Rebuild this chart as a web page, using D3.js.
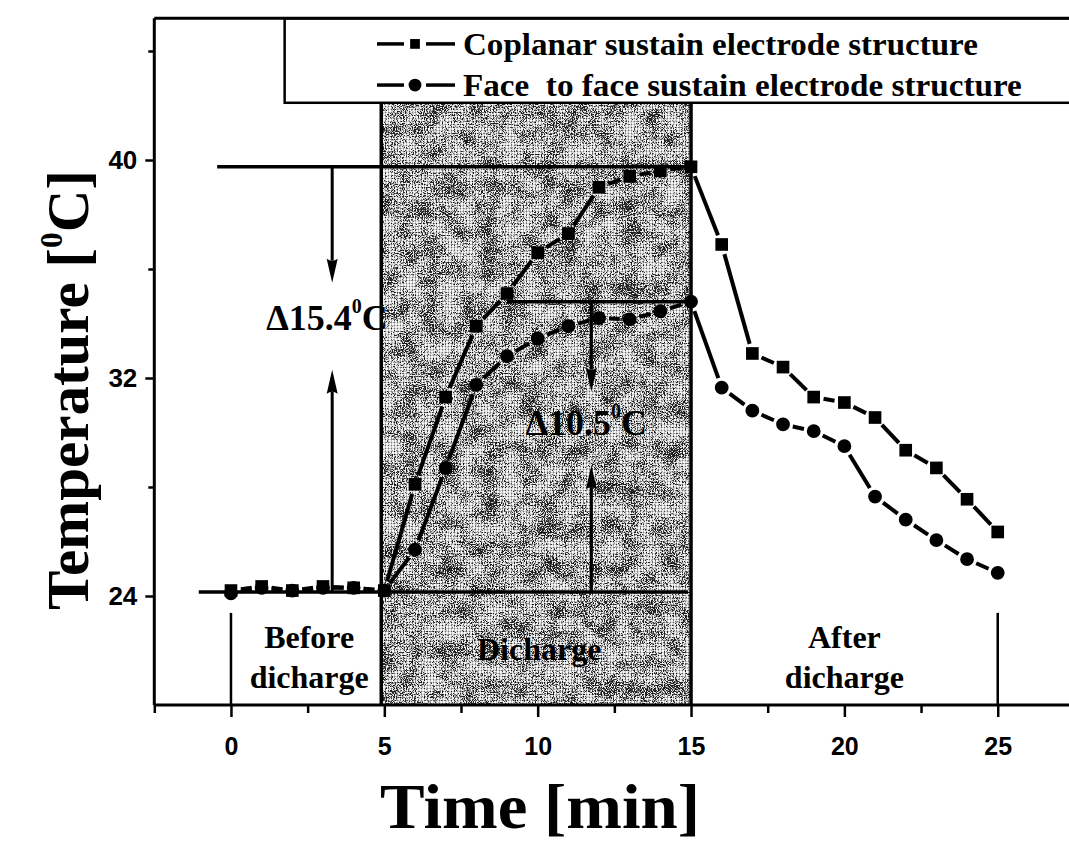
<!DOCTYPE html>
<html><head><meta charset="utf-8">
<script src="https://cdn.jsdelivr.net/npm/d3@7/dist/d3.min.js"></script>
<style>html,body{margin:0;padding:0;background:#fff;} svg{display:block;}</style>
</head><body>
<svg id="chart" width="1069" height="841"></svg>
<script>
// ---------------- data ----------------
const minutes = [0,1,2,3,4,5,6,7,8,9,10,11,12,13,14,15,16,17,18,19,20,21,22,23,24,25];
const coplanar = [24.2,24.35,24.2,24.35,24.3,24.2,28.1,31.3,33.9,35.1,36.6,37.3,39.0,39.4,39.6,39.75,36.9,32.9,32.4,31.3,31.1,30.55,29.35,28.7,27.55,26.35];
const faceToFace = [24.1,24.3,24.2,24.3,24.3,24.2,25.7,28.7,31.75,32.8,33.45,33.9,34.2,34.15,34.45,34.8,31.65,30.8,30.3,30.05,29.5,27.65,26.8,26.05,25.35,24.85];
const seriesNames = ["Coplanar sustain electrode structure", "Face  to face sustain electrode structure"];
const xMajorTicks = [0,5,10,15,20,25];
const xMinorTicks = [-2.5,2.5,7.5,12.5,17.5,22.5];
const yMajorTicks = [24,32,40];
const yMinorTicks = [28,36,44];
const xTitle = "Time [min]";
const yTitleMain = "Temperature [", yTitleSup = "0", yTitleEnd = "C]";
const phaseLabels = [["Before","dicharge"],["Dicharge"],["After","dicharge"]];
const phaseCenters = [2.55, 10.05, 20.0];
const dischargeStart = 4.9, dischargeEnd = 15;
const refLevels = [39.75, 34.8, 24.15];          // horizontal reference levels
const refStarts = [-0.45, 9.0, -1.05];
const refEnds = [15, 15, 14.9];
const deltaLabels = ["\u039415.4", "\u039410.5"];
const deltaArrowX = [3.3, 11.75];
const deltaTextX = [1.15, 9.6];
const deltaTextY = [33.76, 29.91];
const arrowTips = [[35.5, 32.3], [31.5, 28.8]]; // [down tip, up tip]
const arrowFrom = [[39.75, 24.15], [34.8, 24.15]];

// ---------------- scales ----------------
const svg = d3.select('#chart');
const x = d3.scaleLinear().domain([-2.5, 27.5]).range([154.3, 1074.4]);
const y = d3.scaleLinear().domain([20, 45.2]).range([705, 18.3]);
const legendBottom = 42.1, legendLeft = 1.75;

const serif = "'Liberation Serif','Times New Roman',serif";
const sans = "'Liberation Sans',Arial,sans-serif";

// ---------------- defs: speckle texture ----------------
const defs = svg.append('defs');
const f = defs.append('filter').attr('id','speckle').attr('x',0).attr('y',0).attr('width','100%').attr('height','100%')
  .attr('color-interpolation-filters','sRGB');
f.append('feTurbulence').attr('type','fractalNoise').attr('baseFrequency',0.9).attr('numOctaves',2).attr('seed',5).attr('result','fine');
f.append('feColorMatrix').attr('in','fine').attr('type','matrix').attr('values','0 0 0 0 0  0 0 0 0 0  0 0 0 0 0  1 0 0 0 0').attr('result','fineA');
f.append('feTurbulence').attr('type','fractalNoise').attr('baseFrequency',0.05).attr('numOctaves',2).attr('seed',11).attr('result','coarse');
f.append('feColorMatrix').attr('in','coarse').attr('type','matrix').attr('values','0 0 0 0 0  0 0 0 0 0  0 0 0 0 0  1 0 0 0 0').attr('result','coarseA');
f.append('feComposite').attr('in','coarseA').attr('in2','fineA').attr('operator','arithmetic')
  .attr('k1',0).attr('k2',0.45).attr('k3',-1).attr('k4',0.74).attr('result','mix');
f.append('feColorMatrix').attr('in','mix').attr('type','matrix').attr('values','0 0 0 0 0  0 0 0 0 0  0 0 0 0 0  0 0 0 9 -4.3');

// halftone grid pattern
const pat = defs.append('pattern').attr('id','halftone').attr('patternUnits','userSpaceOnUse').attr('width',3).attr('height',3);
pat.append('rect').attr('width',3).attr('height',3).attr('fill','#fff');
pat.append('circle').attr('cx',1.5).attr('cy',1.5).attr('r',0.9).attr('fill','#777');

// ---------------- discharge shading ----------------
const sx0 = x(dischargeStart), sx1 = x(dischargeEnd), sy0 = y(legendBottom), sy1 = y(20);
svg.append('rect').attr('x',sx0).attr('y',sy0).attr('width',sx1-sx0).attr('height',sy1-sy0).attr('fill','url(#halftone)');
svg.append('rect').attr('x',sx0).attr('y',sy0).attr('width',sx1-sx0).attr('height',sy1-sy0).attr('fill','#000').attr('filter','url(#speckle)').attr('opacity',0.85);
[dischargeStart, dischargeEnd].forEach(t=>{
  svg.append('line').attr('x1',x(t)).attr('x2',x(t)).attr('y1',sy0).attr('y2',sy1).attr('stroke','#000').attr('stroke-width',3.5);
});

// ---------------- legend box ----------------
svg.append('rect').attr('x',x(legendLeft)).attr('y',y(45.2)).attr('width',x(27.5)-x(legendLeft)+10).attr('height',y(legendBottom)-y(45.2))
  .attr('fill','#fff').attr('stroke','#000').attr('stroke-width',2.5);

// ---------------- frame ----------------
const frame = svg.append('g').attr('stroke','#000').attr('stroke-width',3).attr('fill','none');
frame.append('line').attr('x1',x(-2.5)).attr('x2',x(-2.5)).attr('y1',y(45.2)).attr('y2',y(20));
frame.append('line').attr('x1',x(-2.5)).attr('x2',x(27.5)).attr('y1',y(20)).attr('y2',y(20));
frame.append('line').attr('x1',x(-2.5)).attr('x2',x(27.5)).attr('y1',y(45.2)).attr('y2',y(45.2));

// ---------------- axes ----------------
function styleAxis(g){
  g.select('.domain').remove();
  g.selectAll('line').attr('stroke','#000').attr('stroke-width',2.5);
  g.selectAll('text').attr('fill','#000').attr('font-family',sans).attr('font-weight','bold').attr('font-size',25);
}
svg.append('g').attr('transform',`translate(0,${y(20)})`)
  .call(d3.axisBottom(x).tickValues(xMajorTicks).tickSize(12).tickPadding(20).tickFormat(d3.format('d'))).call(styleAxis);
svg.append('g').attr('transform',`translate(0,${y(20)})`)
  .call(d3.axisBottom(x).tickValues(xMinorTicks).tickSize(8).tickFormat('')).call(styleAxis);
svg.append('g').attr('transform',`translate(${x(-2.5)},0)`)
  .call(d3.axisLeft(y).tickValues(yMajorTicks).tickSize(9).tickPadding(8).tickFormat(d3.format('d'))).call(styleAxis)
  .selectAll('text').attr('font-size',26);
svg.append('g').attr('transform',`translate(${x(-2.5)},0)`)
  .call(d3.axisLeft(y).tickValues(yMinorTicks).tickSize(6).tickFormat('')).call(styleAxis);

// ---------------- phase dividers ----------------
[0,25].forEach(t=>{
  svg.append('line').attr('x1',x(t)).attr('x2',x(t)).attr('y1',y(23.38)).attr('y2',y(20)).attr('stroke','#000').attr('stroke-width',2.5);
});

// ---------------- reference lines & arrows ----------------
const ann = svg.append('g');
refLevels.forEach((lv,i)=>{
  ann.append('line').attr('x1',x(refStarts[i])).attr('x2',x(refEnds[i])).attr('y1',y(lv)).attr('y2',y(lv))
    .attr('stroke','#000').attr('stroke-width',3.5);
});
function arrow(t, fromV, tipV){
  const px = x(t), y0 = y(fromV), yt = y(tipV);
  const dir = yt > y0 ? 1 : -1;
  const base = yt - dir*22;
  ann.append('line').attr('x1',px).attr('x2',px).attr('y1',y0).attr('y2',base).attr('stroke','#000').attr('stroke-width',3);
  const p = d3.path();
  p.moveTo(px, yt); p.lineTo(px-5.5, base-dir*2); p.quadraticCurveTo(px, base+dir*2, px+5.5, base-dir*2); p.closePath();
  ann.append('path').attr('d',p.toString()).attr('fill','#000');
}
deltaArrowX.forEach((t,i)=>{
  arrow(t, arrowFrom[i][0], arrowTips[i][0]);
  arrow(t, arrowFrom[i][1], arrowTips[i][1]);
});
deltaLabels.forEach((lab,i)=>{
  const tx = ann.append('text').attr('x',x(deltaTextX[i])).attr('y',y(deltaTextY[i]))
    .attr('font-family',serif).attr('font-weight','bold').attr('font-size',36).attr('fill','#000');
  tx.append('tspan').text(lab);
  tx.append('tspan').text('0').attr('font-size',20).attr('dy',-17);
  tx.append('tspan').text('C').attr('dy',17);
});

// ---------------- data series ----------------
const gap = 10;
function drawSeries(vals, shape){
  const g = svg.append('g');
  const pts = minutes.map((m,i)=>[x(m), y(vals[i])]);
  const seg = d3.line();
  for(let i=0;i<pts.length-1;i++){
    const [ax,ay]=pts[i],[bx,by]=pts[i+1];
    const L = Math.hypot(bx-ax,by-ay);
    if(L <= 2*gap+2) continue;
    const ux=(bx-ax)/L, uy=(by-ay)/L;
    g.append('path').attr('d',seg([[ax+ux*gap,ay+uy*gap],[bx-ux*gap,by-uy*gap]]))
      .attr('stroke','#000').attr('stroke-width',4).attr('fill','none');
  }
  const sym = d3.symbol().type(shape==='square'?d3.symbolSquare:d3.symbolCircle).size(shape==='square'?160:150);
  g.selectAll('path.m').data(pts).join('path').attr('class','m')
    .attr('transform',d=>`translate(${d[0]},${d[1]})`).attr('d',sym).attr('fill','#000');
}
drawSeries(faceToFace,'circle');
drawSeries(coplanar,'square');

// ---------------- legend entries ----------------
const legY = [y(44.26), y(42.75)];
const legSym = [d3.symbolSquare, d3.symbolCircle];
const legSize = [95, 130];
const legTargets = [515, 559];
seriesNames.forEach((name,i)=>{
  const lx0 = 377, lx1 = 455, mx = 415;
  svg.append('line').attr('x1',lx0).attr('x2',mx-11).attr('y1',legY[i]).attr('y2',legY[i]).attr('stroke','#000').attr('stroke-width',3.5);
  svg.append('line').attr('x1',mx+11).attr('x2',lx1).attr('y1',legY[i]).attr('y2',legY[i]).attr('stroke','#000').attr('stroke-width',3.5);
  svg.append('path').attr('transform',`translate(${mx},${legY[i]})`).attr('d',d3.symbol().type(legSym[i]).size(legSize[i])).attr('fill','#000');
  const g = svg.append('g').attr('transform',`translate(463,${legY[i]+11})`);
  const t = g.append('text').attr('x',0).attr('y',0).attr('font-family',serif).attr('font-weight','bold').attr('font-size',31)
    .attr('fill','#000').style('white-space','pre').text(name);
  const w = t.node().getComputedTextLength();
  t.attr('transform',`scale(${legTargets[i]/w},1)`);
});

// ---------------- phase labels ----------------
phaseLabels.forEach((lines,i)=>{
  const baseY = lines.length===2 ? [648, 688] : [660];
  lines.forEach((ln,j)=>{
    svg.append('text').attr('x',x(phaseCenters[i])).attr('y',baseY[j]).attr('text-anchor','middle')
      .attr('font-family',serif).attr('font-weight','bold').attr('font-size',32).attr('fill','#000').text(ln);
  });
});

// ---------------- axis titles ----------------
{
  const g = svg.append('g').attr('transform','translate(540,828)');
  const t = g.append('text').attr('text-anchor','middle').attr('font-family',serif).attr('font-weight','bold')
    .attr('font-size',64).attr('fill','#000').text(xTitle);
  const w = t.node().getComputedTextLength();
  t.attr('transform',`scale(${320/w},1)`);
}
{
  const g = svg.append('g').attr('transform','translate(88,390) rotate(-90)');
  const t = g.append('text').attr('text-anchor','middle').attr('font-family',serif).attr('font-weight','bold')
    .attr('font-size',60).attr('fill','#000');
  t.append('tspan').text(yTitleMain);
  t.append('tspan').text(yTitleSup).attr('font-size',32).attr('dy',-26);
  t.append('tspan').text(yTitleEnd).attr('dy',26);
  const w = t.node().getComputedTextLength();
  t.attr('transform',`scale(${440/w},1)`);
}
</script>
</body></html>
